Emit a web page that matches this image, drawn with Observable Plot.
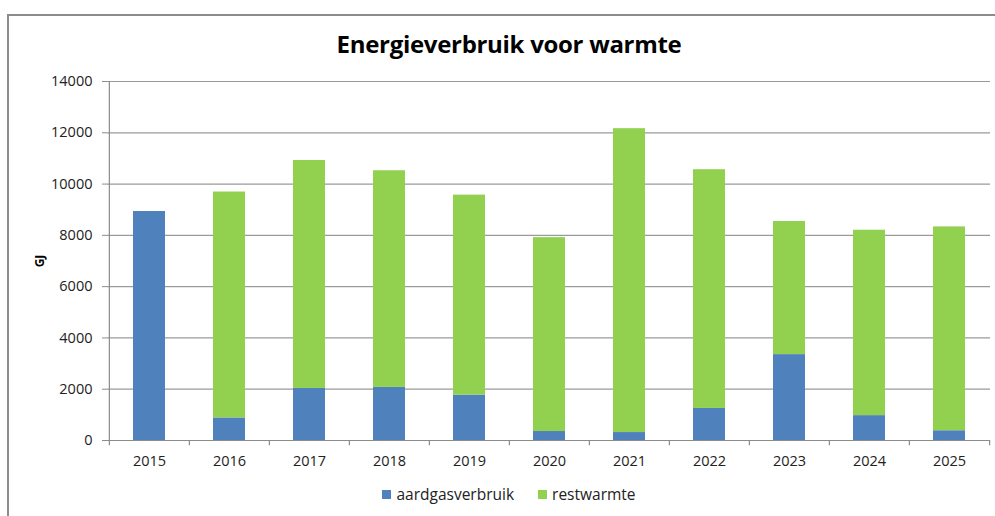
<!DOCTYPE html>
<html><head><meta charset="utf-8">
<script src="https://cdn.jsdelivr.net/npm/d3@7"></script>
<script src="https://cdn.jsdelivr.net/npm/@observablehq/plot@0.6"></script>
<style>
body{margin:0;background:#fff;font-family:"Open Sans",sans-serif;}
#wrap{position:relative;width:995px;height:516px;overflow:hidden;background:#fff;}
#border{position:absolute;left:7px;top:14px;width:1000px;height:520px;border-left:2px solid #8c8c8c;border-top:2px solid #8c8c8c;}
#title{position:absolute;top:27px;left:0;width:1018px;text-align:center;font-size:24px;font-weight:bold;color:#000;letter-spacing:-0.3px;}
#chart{position:absolute;left:0;top:60px;}
#legend{position:absolute;top:483px;left:0;width:1018px;display:flex;justify-content:center;gap:24px;font-size:15.5px;color:#222;}
#legend .item{display:flex;align-items:center;gap:5px;}
#legend .sw{width:9px;height:9px;display:inline-block;}
</style></head>
<body>
<div id="wrap">
  <div id="border"></div>
  <div id="title">Energieverbruik voor warmte</div>
  <div id="chart"></div>
  <div id="legend"></div>
</div>
<script>
const years = ["2015","2016","2017","2018","2019","2020","2021","2022","2023","2024","2025"];
const aardgasverbruik = [8930, 880, 2030, 2070, 1770, 350, 310, 1250, 3350, 970, 380];
const restwarmte = [0, 8810, 8890, 8450, 7800, 7560, 11850, 9310, 5190, 7230, 7950];
const seriesNames = ["aardgasverbruik", "restwarmte"];
const seriesColors = ["#4F81BD", "#92D050"];
const yTicks = [0, 2000, 4000, 6000, 8000, 10000, 12000, 14000];

const table = years.flatMap((y, i) => [
  {year: y, serie: seriesNames[0], value: aardgasverbruik[i]},
  {year: y, serie: seriesNames[1], value: restwarmte[i]}
]);

const W = 995, ML = 107, MR = 5;
const step = (W - ML - MR) / years.length;

const plot = Plot.plot({
  width: W, height: 410,
  marginLeft: ML, marginRight: MR, marginTop: 21, marginBottom: 30,
  style: {fontFamily: "Open Sans", fontSize: "14px", color: "#222", background: "transparent"},
  x: {type: "band", domain: years, paddingInner: 0.6, paddingOuter: 0.3},
  y: {domain: [0, 14000]},
  color: {domain: seriesNames, range: seriesColors},
  marks: [
    Plot.gridY(yTicks.slice(1), {stroke: "#9a9a9a", strokeOpacity: 1, strokeWidth: 1.2}),
    Plot.barY(table, {x: "year", y: "value", fill: "serie"}),
    Plot.ruleY([0], {stroke: "#8c8c8c", strokeWidth: 1.2}),
    Plot.ruleX([years[0]], {x: d => d, y1: 0, y2: 14000, dx: -step / 2, stroke: "#8c8c8c", strokeWidth: 1.2}),
    Plot.ruleX(years, {x: d => d, y1: 0, y2: -200, dx: -step / 2, stroke: "#8c8c8c", strokeWidth: 1.2}),
    Plot.ruleX([years[years.length - 1]], {x: d => d, y1: 0, y2: -200, dx: step / 2, stroke: "#8c8c8c", strokeWidth: 1.2}),
    Plot.axisY(yTicks, {tickSize: 5, tickPadding: 10, stroke: "#8c8c8c", fontSize: 14.5, tickFormat: d => String(d), label: "GJ", labelAnchor: "center", labelOffset: 72, labelArrow: "none"}),
    Plot.axisX({tickSize: 0, tickPadding: 15, fontSize: 14.5, label: null})
  ]
});
document.getElementById("chart").appendChild(plot);
d3.select(plot).selectAll('g[aria-label="y-axis label"] text').attr("font-weight", "bold").attr("font-size", 12).attr("fill", "#000");

const legend = d3.select("#legend");
seriesNames.forEach((n, i) => {
  const it = legend.append("div").attr("class", "item");
  it.append("span").attr("class", "sw").style("background", seriesColors[i]);
  it.append("span").text(n);
});
</script>
</body></html>
